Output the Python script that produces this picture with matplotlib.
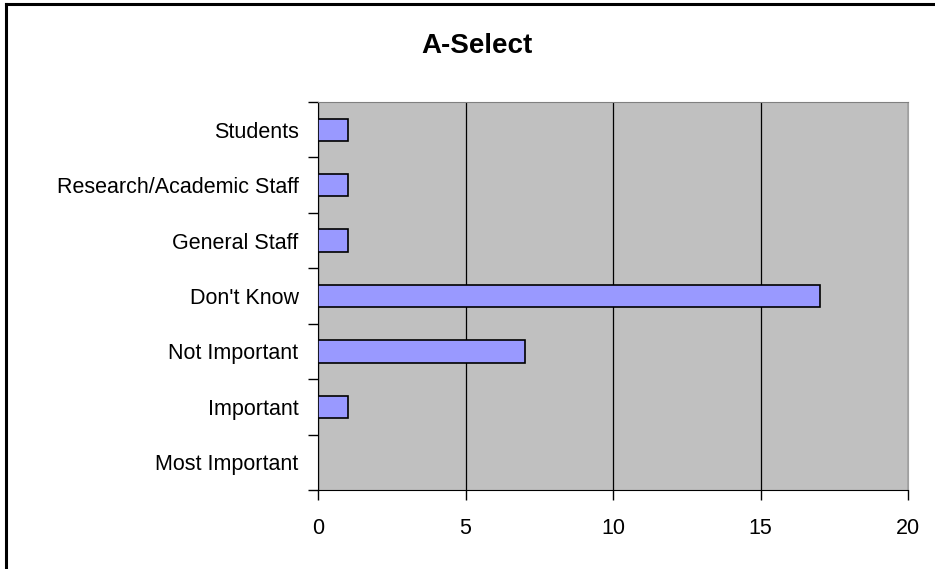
import matplotlib
matplotlib.use("Agg")
import matplotlib.pyplot as plt
from matplotlib.lines import Line2D
import numpy as np

plt.rcParams['font.family'] = ['Liberation Sans', 'DejaVu Sans']

categories = ['Most Important', 'Important', 'Not Important', "Don't Know",
              'General Staff', 'Research/Academic Staff', 'Students']
counts = [0, 1, 7, 17, 1, 1, 1]
xticks = [0, 5, 10, 15, 20]

fig = plt.figure(figsize=(9.35, 5.69), dpi=100)
W, H = 935, 569
ax = fig.add_axes([318 / W, 1 - 490 / H, 590 / W, 388 / H])
ax.set_facecolor('#C0C0C0')

y = np.arange(len(categories))
ax.barh(y, counts, height=0.4, color='#9999FF', edgecolor='black', linewidth=1.2, zorder=3)

ax.set_xlim(0, 20)
ax.set_ylim(-0.5, len(categories) - 0.5)
ax.set_xticks(xticks)
ax.set_xticklabels([str(v) for v in xticks], fontsize=15.5)
ax.set_yticks(y)
ax.set_yticklabels(categories, fontsize=15.5)
ax.set_yticks(np.arange(-0.5, len(categories), 1), minor=True)
ax.tick_params(axis='y', which='major', length=0, pad=14)
ax.tick_params(axis='y', which='minor', length=7, width=1, direction='out')
ax.tick_params(axis='x', length=7, width=1, direction='out', pad=13)
ax.xaxis.grid(True, color='black', linewidth=0.9, zorder=1)
ax.set_axisbelow(True)

ax.spines['left'].set_color('black')
ax.spines['bottom'].set_color('black')
ax.spines['top'].set_color('#808080')
ax.spines['right'].set_color('#A0A0A0')

fig.text(477 / W, 1 - 46 / H, 'A-Select', ha='center', va='center',
         fontsize=20, fontweight='bold')

# chart frame: only the left and top edges fall inside the picture
x0, y0 = 6 / W, 1 - 4 / H
fig.add_artist(Line2D([x0, x0], [0, y0], transform=fig.transFigure, color='black', linewidth=2.2))
fig.add_artist(Line2D([x0, 1], [y0, y0], transform=fig.transFigure, color='black', linewidth=2.2))

fig.savefig('out.png', dpi=100)
